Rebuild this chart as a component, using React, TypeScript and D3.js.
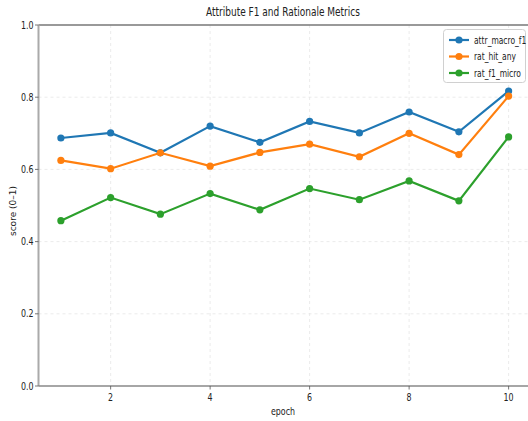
import React from "react";
import * as d3 from "d3";

const epochs = [1, 2, 3, 4, 5, 6, 7, 8, 9, 10];
const attrMacroF1 = [0.687, 0.701, 0.646, 0.72, 0.675, 0.733, 0.701, 0.759, 0.704, 0.817];
const ratHitAny = [0.625, 0.602, 0.646, 0.609, 0.647, 0.67, 0.635, 0.7, 0.641, 0.803];
const ratF1Micro = [0.458, 0.522, 0.476, 0.533, 0.488, 0.547, 0.516, 0.568, 0.513, 0.69];
const seriesNames = ["attr_macro_f1", "rat_hit_any", "rat_f1_micro"];
const seriesColors = ["#1f77b4", "#ff7f0e", "#2ca02c"];
const xTicks = [2, 4, 6, 8, 10];
const yTicks = [0, 0.2, 0.4, 0.6, 0.8, 1.0];

const W = 528, H = 421;
const L = 38.5, R = 531, T = 25, B = 386;
const SX = 0.72;
const FONT = "DejaVu Sans";

function CText({ x, y, size, anchor = "middle", children, rotate = 0, sx = SX, fill = "#222" }: any) {
  return (
    <text
      transform={`translate(${x},${y}) rotate(${rotate}) scale(${sx},1)`}
      fontSize={size}
      fontFamily={FONT}
      textAnchor={anchor}
      fill={fill}
    >
      {children}
    </text>
  );
}

export default function App() {
  const x = d3.scaleLinear().domain([0.55, 10.45]).range([L, R]);
  const y = d3.scaleLinear().domain([0, 1]).range([B, T]);
  const data = [attrMacroF1, ratHitAny, ratF1Micro];
  const line = d3
    .line<number>()
    .x((_, i) => x(epochs[i]))
    .y((d) => y(d));

  return (
    <svg width={W} height={H} style={{ position: "absolute", left: 0, top: 0, background: "#fff" }}>
      <rect x={0} y={0} width={W} height={H} fill="#fff" />
      {/* grid */}
      {xTicks.map((t) => (
        <line key={"gx" + t} x1={x(t)} x2={x(t)} y1={T} y2={B} stroke="#e6e6e6" strokeWidth={0.8} strokeDasharray="3,3" />
      ))}
      {yTicks.filter((t) => t > 0 && t < 1).map((t) => (
        <line key={"gy" + t} x1={L} x2={R} y1={y(t)} y2={y(t)} stroke="#e6e6e6" strokeWidth={0.8} strokeDasharray="3,3" />
      ))}
      {/* spines */}
      <line x1={L} x2={W} y1={T} y2={T} stroke="#777" strokeWidth={1.5} />
      <line x1={L} x2={L} y1={T} y2={B} stroke="#aaa" strokeWidth={2} />
      <line x1={L} x2={W} y1={B} y2={B} stroke="#888" strokeWidth={1.5} />
      {/* ticks */}
      {yTicks.map((t) => (
        <g key={"yt" + t}>
          <line x1={L - 3.5} x2={L} y1={y(t)} y2={y(t)} stroke="#555" strokeWidth={0.8} />
          <CText x={L - 5} y={y(t) + 3.5} size={11} anchor="end">{t.toFixed(1)}</CText>
        </g>
      ))}
      {xTicks.map((t) => (
        <g key={"xt" + t}>
          <line x1={x(t)} x2={x(t)} y1={B} y2={B + 3.5} stroke="#555" strokeWidth={0.8} />
          <CText x={x(t)} y={B + 15} size={11}>{t}</CText>
        </g>
      ))}
      {/* labels */}
      <CText x={283} y={16} size={12.5}>Attribute F1 and Rationale Metrics</CText>
      <CText x={283} y={415} size={11}>epoch</CText>
      <CText x={16} y={211} size={9} rotate={-90} sx={1}>score (0–1)</CText>
      {/* series */}
      {data.map((vals, si) => (
        <g key={"s" + si}>
          <path d={line(vals) || ""} fill="none" stroke={seriesColors[si]} strokeWidth={2.2} />
          {vals.map((v, i) => (
            <circle key={i} cx={x(epochs[i])} cy={y(v)} r={3.6} fill={seriesColors[si]} />
          ))}
        </g>
      ))}
      {/* legend */}
      <rect x={443.5} y={29.5} width={82} height={53} rx={3} fill="#fff" fillOpacity={0.85} stroke="#d0d0d0" strokeWidth={1} />
      {seriesNames.map((n, i) => {
        const ly = 40 + i * 16.5;
        return (
          <g key={n}>
            <line x1={449} x2={469} y1={ly} y2={ly} stroke={seriesColors[i]} strokeWidth={2.2} />
            <circle cx={459} cy={ly} r={3.6} fill={seriesColors[i]} />
            <CText x={474} y={ly + 3.5} size={10.5} anchor="start">{n}</CText>
          </g>
        );
      })}
    </svg>
  );
}
